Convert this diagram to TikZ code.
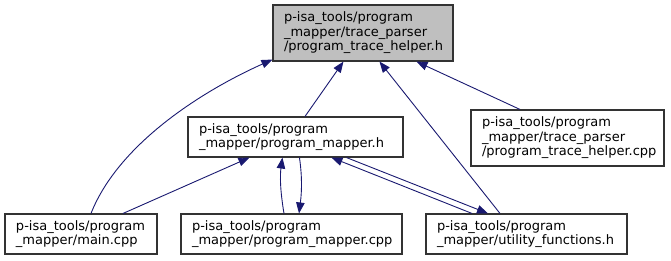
\documentclass[tikz,border=0pt]{standalone}
\usepackage{fontspec}
\setmainfont{DejaVu Sans}
\usetikzlibrary{arrows.meta,calc}
\definecolor{edgeblue}{HTML}{191970}
\definecolor{boxline}{HTML}{333333}
\definecolor{curfill}{HTML}{BFBFBF}
\begin{document}
\begin{tikzpicture}[x=1pt,y=1pt,
  filebox/.style={draw=boxline,line width=1.1pt,fill=white,align=left,
    inner xsep=11pt,inner ysep=0pt,minimum height=#1,anchor=center,
    font=\fontsize{13}{14.5}\selectfont},
  filebox/.default=40pt,
  dep/.style={draw=edgeblue,line width=0.9pt,
    -{Triangle[length=11pt,width=8.5pt,fill=edgeblue]}}]
\useasboundingbox (0,0) rectangle (671,260);
% file nodes
\node[filebox=56pt,fill=curfill,text width=158pt] (top) at (363,227)
  {p-isa\_tools/program\\\_mapper/trace\_parser\\/program\_trace\_helper.h};
\node[filebox,text width=193pt] (pmh) at (295.5,123)
  {p-isa\_tools/program\\\_mapper/program\_mapper.h};
\node[filebox=56pt,text width=171pt] (ptcpp) at (567.5,122)
  {p-isa\_tools/program\\\_mapper/trace\_parser\\/program\_trace\_helper.cpp};
\node[filebox,text width=130pt] (main) at (81,26)
  {p-isa\_tools/program\\\_mapper/main.cpp};
\node[filebox,text width=199pt] (pmcpp) at (291.5,26)
  {p-isa\_tools/program\\\_mapper/program\_mapper.cpp};
\node[filebox,text width=179pt] (uf) at (526.5,26)
  {p-isa\_tools/program\\\_mapper/utility\_functions.h};
% include edges
\draw[dep] ($(main.north)+(10,0)$) .. controls (118,115) and (200,168) .. ($(top.south west)+(0,2)$);
\draw[dep] ($(pmh.north)+(9.5,0)$) -- ($(top.south west)+(71,0)$);
\draw[dep] ($(uf.north)+(-26.5,0)$) -- ($(top.south west)+(107,0)$);
\draw[dep] ($(ptcpp.north)+(-47.5,0)$) -- ($(top.south west)+(144,0)$);
\draw[dep] ($(main.north)+(42,0)$) -- ($(pmh.south west)+(62,0)$);
\draw[dep] ($(pmcpp.north)+(-7.5,0)$) .. controls (280,70) and (280,85) .. ($(pmh.south west)+(95,0)$);
\draw[dep] ($(pmh.south west)+(112,0)$) .. controls (302,85) and (302,70) .. ($(pmcpp.north)+(7.5,0)$);
\draw[dep] ($(uf.north)+(-54.5,0)$) -- ($(pmh.south west)+(144,0)$);
\draw[dep] ($(pmh.south west)+(159,0)$) -- ($(uf.north)+(-38.5,0)$);
\end{tikzpicture}
\end{document}
